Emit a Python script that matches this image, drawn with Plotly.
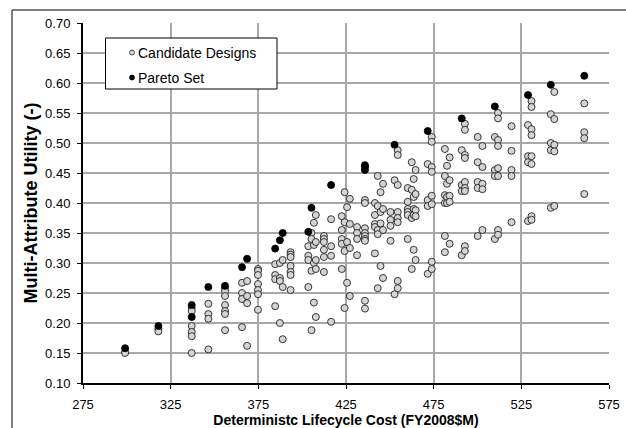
import plotly.graph_objects as go

# ---------------- data ----------------
cand_cost = (
    [299]*2 + [318]*2 + [337]*6 + [346.5]*4 + [356]*7 + [365.7]*4 + [368.6]*4 +
    [374.8]*7 + [384.6]*4 + [387.3]*4 + [388.9]*3 + [393.4]*7 + [403.5]*4 +
    [405.3]*4 + [406.7]*4 + [407.8]*5 + [412.4]*6 + [416.5]*4 + [422.6]*5 +
    [424.2]*4 + [425.6]*3 + [427.2]*4 + [431.3]*4 + [435.8]*9 + [441.5]*5 +
    [443.1]*5 + [444.7]*4 + [446.1]*4 + [450.4]*4 + [452.7]*2 + [454.5]*8 +
    [460.2]*6 + [462.5]*4 + [463.6]*5 + [464.7]*5 + [471.6]*4 + [473.9]*8 +
    [481.4]*6 + [482.6]*4 + [484.1]*5 + [491]*4 + [492.8]*9 + [500.1]*5 +
    [502.8]*5 + [509.9]*4 + [511.7]*8 + [519.4]*5 + [528.8]*4 + [530.8]*8 +
    [541.8]*4 + [543.8]*5 + [560.9]*4
)
cand_utility = [
    0.152, 0.150,
    0.190, 0.186,
    0.225, 0.220, 0.195, 0.185, 0.178, 0.150,
    0.232, 0.215, 0.207, 0.156,
    0.258, 0.253, 0.245, 0.230, 0.220, 0.215, 0.188,
    0.267, 0.250, 0.240, 0.193,
    0.270, 0.245, 0.233, 0.162,
    0.290, 0.287, 0.280, 0.265, 0.255, 0.248, 0.222,
    0.298, 0.280, 0.273, 0.228,
    0.300, 0.275, 0.270, 0.200,
    0.305, 0.260, 0.173,
    0.318, 0.314, 0.310, 0.295, 0.285, 0.280, 0.255,
    0.328, 0.312, 0.305, 0.260,
    0.350, 0.340, 0.287, 0.188,
    0.367, 0.330, 0.300, 0.234,
    0.380, 0.335, 0.305, 0.290, 0.210,
    0.345, 0.340, 0.335, 0.322, 0.310, 0.285,
    0.373, 0.328, 0.312, 0.202,
    0.378, 0.355, 0.340, 0.332, 0.290,
    0.418, 0.368, 0.320, 0.225,
    0.393, 0.335, 0.267,
    0.407, 0.365, 0.325, 0.245,
    0.360, 0.350, 0.340, 0.313,
    0.405, 0.400, 0.358, 0.350, 0.345, 0.340, 0.337, 0.237, 0.224,
    0.400, 0.380, 0.365, 0.360, 0.316,
    0.445, 0.395, 0.355, 0.348, 0.258,
    0.418, 0.385, 0.366, 0.295,
    0.432, 0.390, 0.355, 0.275,
    0.385, 0.372, 0.362, 0.337,
    0.438, 0.248,
    0.488, 0.480, 0.430, 0.385, 0.375, 0.368, 0.270, 0.258,
    0.425, 0.402, 0.390, 0.385, 0.380, 0.340,
    0.468, 0.422, 0.375, 0.290,
    0.440, 0.410, 0.390, 0.380, 0.322,
    0.455, 0.415, 0.388, 0.378, 0.305,
    0.465, 0.405, 0.395, 0.282,
    0.510, 0.502, 0.460, 0.452, 0.412, 0.398, 0.302, 0.290,
    0.490, 0.445, 0.413, 0.400, 0.345, 0.318,
    0.462, 0.432, 0.410, 0.400,
    0.476, 0.438, 0.412, 0.402, 0.332,
    0.488, 0.430, 0.420, 0.313,
    0.532, 0.522, 0.480, 0.475, 0.435, 0.425, 0.420, 0.328, 0.320,
    0.510, 0.468, 0.435, 0.425, 0.345,
    0.495, 0.460, 0.432, 0.423, 0.355,
    0.510, 0.455, 0.445, 0.340,
    0.550, 0.541, 0.505, 0.495, 0.458, 0.445, 0.355, 0.347,
    0.528, 0.487, 0.455, 0.445, 0.368,
    0.530, 0.478, 0.468, 0.370,
    0.570, 0.560, 0.523, 0.513, 0.478, 0.465, 0.378, 0.372,
    0.548, 0.500, 0.488, 0.392,
    0.585, 0.540, 0.497, 0.486, 0.395,
    0.566, 0.518, 0.508, 0.415,
]

pareto_cost = [299, 318, 337, 337, 346.5, 356, 365.7, 368.6, 384.6, 387.3, 388.9,
               403.5, 405.3, 416.5, 435.8, 435.8, 435.8, 452.7, 471.6, 491,
               509.9, 528.8, 541.8, 560.9]
pareto_utility = [0.158, 0.195, 0.230, 0.210, 0.260, 0.262, 0.293, 0.307, 0.324, 0.338, 0.350,
                  0.352, 0.392, 0.430, 0.463, 0.460, 0.455, 0.497, 0.520, 0.541,
                  0.561, 0.580, 0.597, 0.612]

series_names = ["Candidate Designs", "Pareto Set"]
x_ticks = [275, 325, 375, 425, 475, 525, 575]
y_ticks = [0.10, 0.15, 0.20, 0.25, 0.30, 0.35, 0.40, 0.45, 0.50, 0.55, 0.60, 0.65, 0.70]

# ---------------- figure ----------------
W, H = 626, 428
ML, MR, MT, MB = 83, 17, 23, 45
PW, PH = W - ML - MR, H - MT - MB

def px(x):
    return (x - ML) / PW

def py(y):
    return (H - MB - y) / PH

FONT = "Liberation Sans, Arial, sans-serif"
GREY_FILL = "#d4d4d4"

fig = go.Figure()
fig.add_trace(go.Scatter(
    x=cand_cost, y=cand_utility, mode="markers", name=series_names[0],
    marker=dict(size=7, color=GREY_FILL, line=dict(color="#222222", width=0.9)),
    showlegend=False,
))
fig.add_trace(go.Scatter(
    x=pareto_cost, y=pareto_utility, mode="markers", name=series_names[1],
    marker=dict(size=7, color="black", line=dict(color="black", width=0.9)),
    showlegend=False,
))

fig.update_layout(
    width=W, height=H,
    margin=dict(l=ML, r=MR, t=MT, b=MB),
    paper_bgcolor="white", plot_bgcolor="white",
    font=dict(family=FONT, size=13, color="black"),
    xaxis=dict(
        range=[275, 575], tickvals=x_ticks, ticktext=[str(v) for v in x_ticks],
        showgrid=True, gridcolor="#a8a8a8", gridwidth=1.5,
        showline=True, linecolor="black", linewidth=2,
        ticks="outside", ticklen=4, tickcolor="black", tickwidth=1,
        ticklabelstandoff=4, automargin=False,
        tickfont=dict(size=13), zeroline=False,
        title=dict(text="<b>Deterministc Lifecycle Cost (FY2008$M)</b>",
                   font=dict(size=14), standoff=4),
    ),
    yaxis=dict(
        range=[0.10, 0.70], tickvals=y_ticks, ticktext=[f"{v:.2f}" for v in y_ticks],
        showgrid=True, gridcolor="#a8a8a8", gridwidth=1.5,
        showline=True, linecolor="black", linewidth=2,
        ticks="outside", ticklen=4, tickcolor="black", tickwidth=1,
        ticklabelstandoff=4, automargin=False,
        tickfont=dict(size=13), zeroline=False,
        title=dict(text="<b>Multi-Attribute Utility (-)</b>",
                   font=dict(size=18), standoff=3),
    ),
)

# outer chart-area border
fig.add_shape(type="rect", xref="paper", yref="paper",
              x0=px(12), x1=px(640), y0=py(440), y1=py(10),
              line=dict(color="black", width=1), fillcolor="rgba(0,0,0,0)", layer="above")

# legend box drawn manually
fig.add_shape(type="rect", xref="paper", yref="paper",
              x0=px(105.5), x1=px(277), y0=py(89), y1=py(38),
              line=dict(color="black", width=1), fillcolor="white", layer="above")
legend_items = [(series_names[0], GREY_FILL, "#222222", 52.5),
                (series_names[1], "black", "black", 77.5)]
for name, fill, edge, yc in legend_items:
    fig.add_shape(type="circle", xref="paper", yref="paper",
                  x0=px(129.5), x1=px(134.5), y0=py(yc + 2.5), y1=py(yc - 2.5),
                  line=dict(color=edge, width=0.8), fillcolor=fill, layer="above")
    fig.add_annotation(xref="paper", yref="paper", x=px(136), y=py(yc),
                       text=name, showarrow=False, xanchor="left", yanchor="middle",
                       font=dict(size=14, family=FONT, color="black"))

fig.write_html("out.html", config={"displayModeBar": False},
               post_script="document.body.style.margin='0px';document.body.style.overflow='hidden';")
